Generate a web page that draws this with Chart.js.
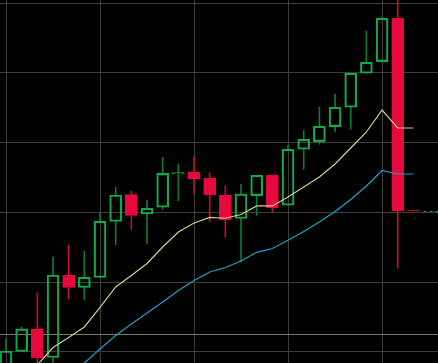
<!DOCTYPE html>
<html lang="en">
<head>
  <meta charset="UTF-8" />
  <meta name="viewport" content="width=device-width, initial-scale=1.0" />
  <title>Candles</title>
  <script src="https://cdn.jsdelivr.net/npm/chart.js"></script>
  <style>
    html, body { margin: 0; padding: 0; background: #000; overflow: hidden; }
    #wrap { width: 438px; height: 363px; position: relative; }
  </style>
</head>
<body>
  <div id="wrap"><canvas id="candles"></canvas></div>

  <script>
    // OHLC per bar
    const opens  = [97.71, 100.07, 103.30, 99.21, 111.03, 109.24, 110.67, 118.70, 122.56, 119.77,
                    120.73, 125.50, 125.79, 124.93, 122.45, 119.13, 122.39, 125.36, 121.02, 129.04,
                    130.13, 132.28, 135.06, 139.93, 141.59, 147.81, 120.34];
    const highs  = [101.86, 103.58, 108.45, 113.61, 115.33, 114.47, 119.91, 123.64, 123.07, 121.78,
                    127.89, 126.93, 128.08, 125.69, 123.78, 124.03, 125.32, 125.36, 129.66, 131.76,
                    135.10, 136.96, 139.93, 145.99, 147.99, 151.86, 120.34];
    const lows   = [96.70, 100.07, 97.99, 97.99, 107.59, 107.45, 110.67, 115.33, 117.55, 115.52,
                    120.44, 121.68, 122.74, 118.73, 116.43, 112.89, 119.59, 120.01, 121.02, 126.18,
                    129.76, 131.56, 131.91, 139.93, 141.51, 111.99, 120.20];
    const closes = [100.14, 103.30, 99.14, 111.03, 109.24, 110.70, 118.73, 122.49, 119.56, 120.59,
                    125.60, 125.70, 124.83, 122.54, 118.91, 122.64, 125.32, 120.67, 129.04, 130.47,
                    132.34, 135.06, 139.93, 141.51, 147.81, 120.24, 120.20];

    // moving averages (null = not drawn)
    const maFast = [null, 95.85, 98.14, 100.64, 102.08, 103.58, 106.38, 109.31, 110.96, 112.68,
                    115.04, 117.19, 118.48, 119.27, 119.16, 119.70, 120.92, 120.92, 122.21, 123.64,
                    125.07, 126.94, 129.23, 131.52, 134.67, 132.09, 132.09];
    const maSlow = [null, null, null, 94.41, 96.42, 98.42, 100.43, 102.36, 104.01, 105.59,
                    107.16, 108.81, 110.24, 111.46, 112.11, 113.04, 114.28, 114.83, 116.00, 117.26,
                    118.62, 120.13, 121.85, 123.78, 126.00, 125.50, 125.50];

    const refLevel = 102.58;

    const bullBody = '#14a84a';
    const bullWick = '#0b7a33';
    const bearBody = '#e8093c';
    const bearWick = '#c20d36';

    const idx = opens.map((_, i) => i);
    const isBull = i => closes[i] >= opens[i];

    const bodies    = idx.map(i => ({ x: i, y: [opens[i], closes[i]] }));
    const upWicks   = idx.map(i => ({ x: i, y: [Math.max(opens[i], closes[i]), highs[i]] }));
    const downWicks = idx.map(i => ({ x: i, y: [lows[i], Math.min(opens[i], closes[i])] }));
    const wickColors = idx.map(i => isBull(i) ? bullWick : bearWick);

    // gray level line + dashed last price line
    const extraLines = {
      id: 'extraLines',
      beforeDatasetsDraw(chart) {
        const { ctx, chartArea, scales } = chart;
        const py = Math.round(scales.y.getPixelForValue(refLevel)) + 0.5;
        ctx.save();
        ctx.strokeStyle = '#777';
        ctx.lineWidth = 1;
        ctx.beginPath();
        ctx.moveTo(chartArea.left, py);
        ctx.lineTo(chartArea.right, py);
        ctx.stroke();
        ctx.restore();
      },
      afterDatasetsDraw(chart) {
        const { ctx, chartArea, scales } = chart;
        const last = closes.length - 1;
        const py = Math.round(scales.y.getPixelForValue(closes[last])) + 0.5;
        const px = scales.x.getPixelForValue(last) + 10;
        ctx.save();
        ctx.strokeStyle = bullBody;
        ctx.lineWidth = 1;
        ctx.setLineDash([3, 3]);
        ctx.beginPath();
        ctx.moveTo(px, py);
        ctx.lineTo(chartArea.right, py);
        ctx.stroke();
        ctx.restore();
      }
    };

    new Chart(document.getElementById('candles'), {
      type: 'bar',
      data: {
        datasets: [
          {
            type: 'line', data: idx.map(i => ({ x: i, y: maFast[i] })),
            borderColor: '#d2cf8c', borderWidth: 1.2, pointRadius: 0, tension: 0, order: 1
          },
          {
            type: 'line', data: idx.map(i => ({ x: i, y: maSlow[i] })),
            borderColor: '#1aa3c2', borderWidth: 1.2, pointRadius: 0, tension: 0, order: 1
          },
          {
            data: bodies, grouped: false, barThickness: 12, order: 2,
            backgroundColor: idx.map(i => isBull(i) ? 'rgba(0,0,0,0)' : bearBody),
            borderColor: idx.map(i => isBull(i) ? bullBody : bearBody),
            borderWidth: 1.5, borderSkipped: false
          },
          {
            data: upWicks, grouped: false, barThickness: 1, order: 3,
            backgroundColor: wickColors, borderWidth: 0
          },
          {
            data: downWicks, grouped: false, barThickness: 1, order: 3,
            backgroundColor: wickColors, borderWidth: 0
          }
        ]
      },
      options: {
        responsive: true,
        maintainAspectRatio: false,
        animation: false,
        layout: { padding: 0 },
        plugins: { legend: { display: false }, tooltip: { enabled: false } },
        scales: {
          x: {
            type: 'linear', offset: false,
            min: -0.383, max: 27.57,
            ticks: { display: false, stepSize: 6, includeBounds: false },
            grid: { color: '#3c3c3c', lineWidth: 1, offset: false, drawTicks: false },
            border: { display: false }
          },
          y: {
            min: 98.42, max: 150.43,
            ticks: { display: false, stepSize: 10, includeBounds: false },
            grid: { color: '#3c3c3c', lineWidth: 1, drawTicks: false },
            border: { display: false }
          }
        }
      },
      plugins: [extraLines]
    });
  </script>
</body>
</html>
